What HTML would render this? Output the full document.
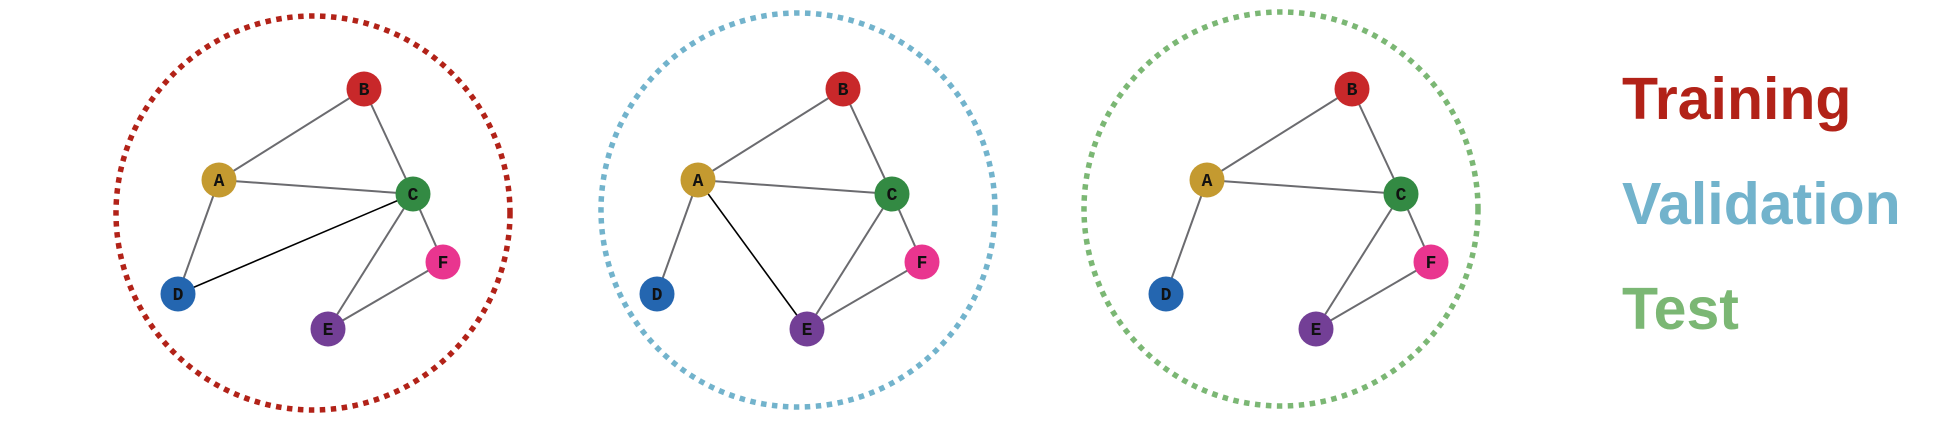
<!DOCTYPE html>
<html><head><meta charset="utf-8"><style>
html,body{margin:0;padding:0;background:#fff;}
svg{display:block;}
</style></head><body>
<svg width="1948" height="424" viewBox="0 0 1948 424" xmlns="http://www.w3.org/2000/svg">
<defs>
<g id="nodes">
  <circle cx="364" cy="89" r="17.5" fill="#c8282a"/>
  <circle cx="219" cy="180" r="17.5" fill="#c49a30"/>
  <circle cx="413" cy="194" r="17.5" fill="#338a43"/>
  <circle cx="178" cy="294" r="17.5" fill="#2466b0"/>
  <circle cx="328" cy="329" r="17.5" fill="#733f96"/>
  <circle cx="443" cy="262" r="17.5" fill="#e9358f"/>
  <g font-family="'Liberation Mono', 'Courier New', monospace" font-weight="bold" font-size="18" text-anchor="middle" fill="#111">
    <text x="364" y="95">B</text>
    <text x="219" y="186">A</text>
    <text x="413" y="200">C</text>
    <text x="178" y="300">D</text>
    <text x="328" y="335">E</text>
    <text x="443" y="268">F</text>
  </g>
</g>
<g id="common" stroke="#6b6b6f" stroke-width="2" fill="none">
  <line x1="364" y1="89" x2="219" y2="180"/>
  <line x1="364" y1="89" x2="413" y2="194"/>
  <line x1="219" y1="180" x2="413" y2="194"/>
  <line x1="219" y1="180" x2="178" y2="294"/>
  <line x1="413" y1="194" x2="443" y2="262"/>
  <line x1="413" y1="194" x2="328" y2="329"/>
  <line x1="443" y1="262" x2="328" y2="329"/>
</g>
</defs>
<!-- Panel 1 -->
<circle cx="313" cy="213" r="197" fill="none" stroke="#b22218" stroke-width="5.5" stroke-dasharray="5.5 5.5"/>
<use href="#common"/>
<line x1="413" y1="194" x2="178" y2="294" stroke="#000" stroke-width="1.6"/>
<use href="#nodes"/>
<!-- Panel 2 -->
<circle cx="798" cy="210" r="197" fill="none" stroke="#72b3cc" stroke-width="5.5" stroke-dasharray="5.5 5.5"/>
<g transform="translate(479,0)">
<use href="#common"/>
<line x1="219" y1="180" x2="328" y2="329" stroke="#000" stroke-width="1.6"/>
<use href="#nodes"/>
</g>
<!-- Panel 3 -->
<circle cx="1281" cy="209" r="197" fill="none" stroke="#7bb774" stroke-width="5.5" stroke-dasharray="5.5 5.5"/>
<g transform="translate(988,0)">
<use href="#common"/>
<use href="#nodes"/>
</g>
<!-- Legend -->
<g font-family="Liberation Sans, Arial, sans-serif" font-weight="bold" font-size="59">
<text x="1622" y="119" fill="#b22218">Training</text>
<text x="1622" y="224" fill="#72b3cc">Validation</text>
<text x="1622" y="329" fill="#7bb774">Test</text>
</g>
</svg>
</body></html>
